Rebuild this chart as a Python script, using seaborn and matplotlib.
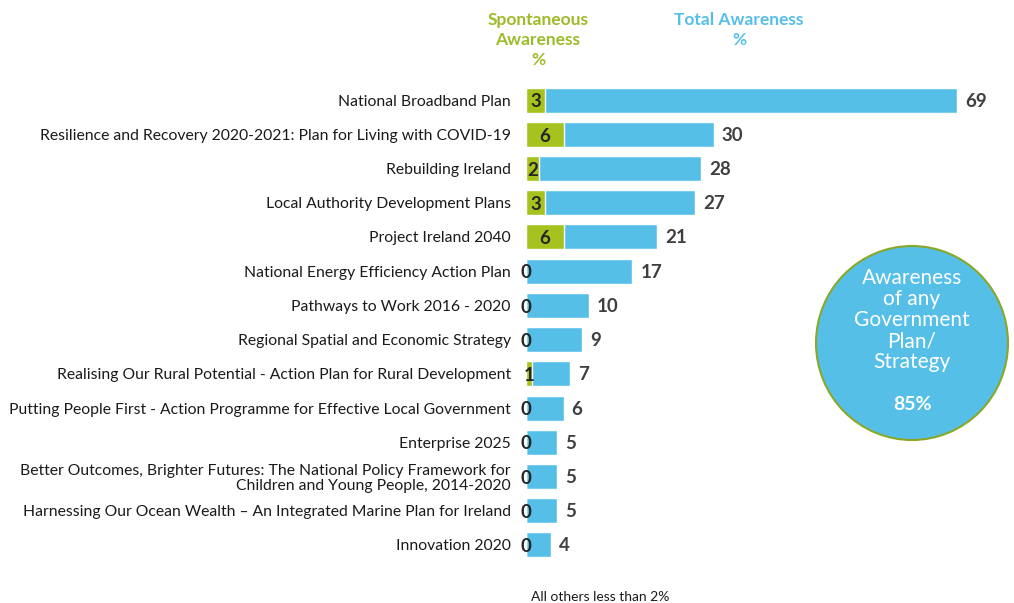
import numpy as np
import pandas as pd
import matplotlib
matplotlib.use("Agg")
import matplotlib.pyplot as plt
from matplotlib.patches import Ellipse
import seaborn as sns

# DATA
plans = [
    "National Broadband Plan",
    "Resilience and Recovery 2020-2021: Plan for Living with COVID-19",
    "Rebuilding Ireland",
    "Local Authority Development Plans",
    "Project Ireland 2040",
    "National Energy Efficiency Action Plan",
    "Pathways to Work 2016 - 2020",
    "Regional Spatial and Economic Strategy",
    "Realising Our Rural Potential - Action Plan for Rural Development",
    "Putting People First - Action Programme for Effective Local Government",
    "Enterprise 2025",
    "Better Outcomes, Brighter Futures: The National Policy Framework for\nChildren and Young People, 2014-2020",
    "Harnessing Our Ocean Wealth \u2013 An Integrated Marine Plan for Ireland",
    "Innovation 2020",
]
total = [69, 30, 28, 27, 21, 17, 10, 9, 7, 6, 5, 5, 5, 4]
spontaneous = [3, 6, 2, 3, 6, 0, 0, 0, 1, 0, 0, 0, 0, 0]
any_plan = 85

blue = "#56bfe8"
green = "#a5c21f"
dark = "#3f3f3f"

df = pd.DataFrame({"plan": plans, "total": total, "spont": spontaneous})

sns.set_theme(style="white")
plt.rcParams["font.family"] = ["Lato", "DejaVu Sans"]

fig = plt.figure(figsize=(10.14, 6.03), dpi=100)
ax = fig.add_axes([526 / 1014, 1 - 562 / 603, (1014 - 526) / 1014, 479 / 603])

sns.barplot(data=df, x="total", y="plan", color=blue, saturation=1,
            width=0.73, ax=ax)
sns.barplot(data=df, x="spont", y="plan", color=green, saturation=1,
            width=0.73, ax=ax)
# thin white divider where the green part meets the blue
for p, s in zip(ax.containers[1], spontaneous):
    if s > 0:
        p.set_edgecolor("white")
        p.set_linewidth(1)

ax.set_xlim(0, (1014 - 526) / 6.25)
ax.set_ylim(len(plans) - 0.5, -0.5)
sns.despine(ax=ax, left=True, bottom=True)
ax.set_xticks([])
ax.set_xlabel("")
ax.set_ylabel("")
ax.tick_params(axis="y", length=0, pad=11)
for lab in ax.get_yticklabels():
    lab.set_fontsize(11.3)
    lab.set_color("#1a1a1a")
    lab.set_linespacing(1.05)

# value labels
for i, (t, s) in enumerate(zip(total, spontaneous)):
    ax.text(t + 1.3, i + 0.03, str(t), va="center", ha="left", fontsize=13.5,
            fontweight="bold", color=dark)
    ax.text(s / 2, i + 0.05, str(s), va="center", ha="center", fontsize=13.5,
            fontweight="bold", color="#262626")

# headers
fig.text(538 / 1014, 1 - 12 / 603, "Spontaneous\nAwareness\n%", ha="center",
         va="top", fontsize=12.5, fontweight="bold", color="#9dbb2b",
         linespacing=1.3)
fig.text(739 / 1014, 1 - 12 / 603, "Total Awareness\n%", ha="center",
         va="top", fontsize=12.5, fontweight="bold", color=blue,
         linespacing=1.3)

# circle
circ = Ellipse((912 / 1014, 1 - 343 / 603), 192 / 1014, 194 / 603,
               transform=fig.transFigure, facecolor=blue,
               edgecolor="#8aa828", linewidth=1.5)
fig.add_artist(circ)
fig.text(912 / 1014, 1 - 320 / 603,
         "Awareness\nof any\nGovernment\nPlan/\nStrategy", ha="center",
         va="center", fontsize=15, color="white", linespacing=1.07)
fig.text(912 / 1014, 1 - 405 / 603, f"{any_plan}%", ha="center",
         va="center", fontsize=14, fontweight="bold", color="white")

fig.text(600 / 1014, 1 - 597 / 603, "All others less than 2%", ha="center",
         va="center", fontsize=10, color="#1a1a1a")

fig.savefig("out.png", dpi=100)
